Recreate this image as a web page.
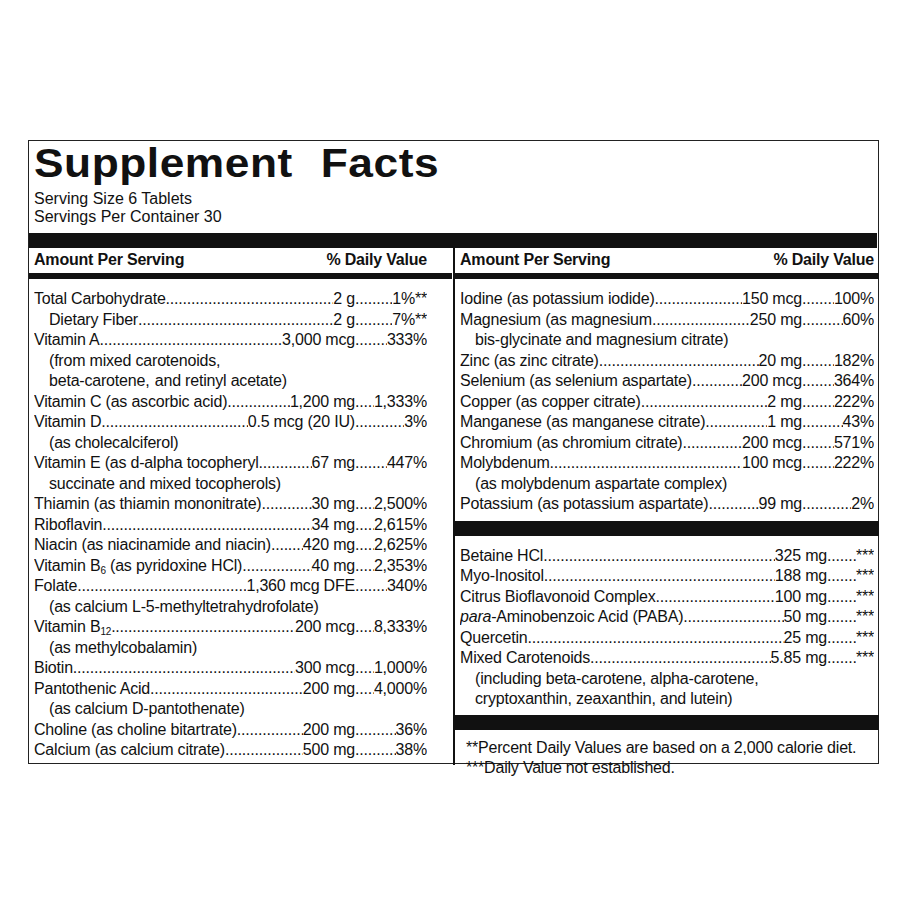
<!DOCTYPE html>
<html><head><meta charset="utf-8">
<script src="https://cdn.jsdelivr.net/npm/chart.js@4"></script>
<style>
body{margin:0;background:#fff;width:909px;height:909px;position:relative;font-family:"Liberation Sans",Arial,sans-serif;color:#111}
#box{position:absolute;left:28px;top:140px;width:851px;height:624px;border:1.5px solid #222;box-sizing:border-box}
#title{position:absolute;left:5px;top:-1px;font:bold 41px "Liberation Sans",Arial,sans-serif;letter-spacing:0.5px;word-spacing:14px;transform:scaleX(1.08);transform-origin:left}
.serv{position:absolute;left:5px;font-size:16px}
.bar{position:absolute;background:#111}
.col{position:absolute;top:106px;font-size:16px;letter-spacing:-0.2px}
.hdr{display:flex;justify-content:space-between;font-weight:bold;height:26px;line-height:26px}
.row{display:flex;height:20.5px;line-height:20.5px;white-space:nowrap;overflow:hidden}
.dots{flex:1;overflow:hidden;min-width:4px}
.dots::after{content:"..............................................................................................................................................................";}
.dv{display:flex;width:var(--dvw)}
.sub{padding-left:15px}
.foot{font-size:16px;line-height:20.5px;white-space:nowrap;padding-left:6px}
sub,sup{font-size:10px;line-height:0;vertical-align:baseline;position:relative}
sub{top:3px}
sup{top:-6px}
</style></head><body>
<div id="box">
  <div id="title">Supplement Facts</div>
  <div class="serv" style="top:49px">Serving Size 6 Tablets</div>
  <div class="serv" style="top:67px">Servings Per Container 30</div>
  <div class="bar" style="left:0;top:92px;width:848px;height:15px"></div>
  <div class="bar" style="left:424px;top:92px;width:1.5px;height:532px"></div>
  <div id="left" class="col" style="left:5px;width:393px"></div>
  <div id="right" class="col" style="left:431px;width:414px"></div>
</div>
<script>
// left column: [name, amount, daily value], continuation lines have only name
const leftRows = [
  ['Total Carbohydrate', '2 g', '1%**'],
  ['  Dietary Fiber', '2 g', '7%**'],
  ['Vitamin A', '3,000 mcg', '333%'],
  ['(from mixed carotenoids,'],
  ['beta-carotene,<sup>†</sup> and retinyl acetate)'],
  ['Vitamin C (as ascorbic acid)', '1,200 mg', '1,333%'],
  ['Vitamin D', '0.5 mcg (20 IU)', '3%'],
  ['(as cholecalciferol)'],
  ['Vitamin E (as d-alpha tocopheryl', '67 mg', '447%'],
  ['succinate and mixed tocopherols)'],
  ['Thiamin (as thiamin mononitrate)', '30 mg', '2,500%'],
  ['Riboflavin', '34 mg', '2,615%'],
  ['Niacin (as niacinamide and niacin)', '420 mg', '2,625%'],
  ['Vitamin B<sub>6</sub> (as pyridoxine HCl)', '40 mg', '2,353%'],
  ['Folate', '1,360 mcg DFE', '340%'],
  ['(as calcium L-5-methyltetrahydrofolate)<sup>††</sup>'],
  ['Vitamin B<sub>12</sub>', '200 mcg', '8,333%'],
  ['(as methylcobalamin)'],
  ['Biotin', '300 mcg', '1,000%'],
  ['Pantothenic Acid', '200 mg', '4,000%'],
  ['(as calcium D-pantothenate)'],
  ['Choline (as choline bitartrate)', '200 mg', '36%'],
  ['Calcium (as calcium citrate)', '500 mg', '38%']
];
const rightMinerals = [
  ['Iodine (as potassium iodide)', '150 mcg', '100%'],
  ['Magnesium (as magnesium', '250 mg', '60%'],
  ['bis-glycinate and magnesium citrate)'],
  ['Zinc (as zinc citrate)', '20 mg', '182%'],
  ['Selenium (as selenium aspartate)', '200 mcg', '364%'],
  ['Copper (as copper citrate)', '2 mg', '222%'],
  ['Manganese (as manganese citrate)', '1 mg', '43%'],
  ['Chromium (as chromium citrate)', '200 mcg', '571%'],
  ['Molybdenum', '100 mcg', '222%'],
  ['(as molybdenum aspartate complex)'],
  ['Potassium (as potassium aspartate)', '99 mg', '2%']
];
const rightOthers = [
  ['Betaine HCl', '325 mg', '***'],
  ['Myo-Inositol', '188 mg', '***'],
  ['Citrus Bioflavonoid Complex', '100 mg', '***'],
  ['<i>para</i>-Aminobenzoic Acid (PABA)', '50 mg', '***'],
  ['Quercetin', '25 mg', '***'],
  ['Mixed Carotenoids', '5.85 mg', '***'],
  ['(including beta-carotene, alpha-carotene,'],
  ['cryptoxanthin, zeaxanthin, and lutein)']
];
const footnotes = [
  '**Percent Daily Values are based on a 2,000 calorie diet.',
  '***Daily Value not established.'
];

function rowHtml(r, dvw) {
  if (r.length === 1) return `<div class="row sub">${r[0]}</div>`;
  const ind = r[0].startsWith('  ') ? ' style="padding-left:15px"' : '';
  return `<div class="row"${ind}><span>${r[0].trim()}</span><span class="dots"></span><span>${r[1]}</span>` +
    `<span class="dv" style="--dvw:${dvw}px"><span class="dots"></span><span>${r[2]}</span></span></div>`;
}
const hdr = '<div class="hdr"><span>Amount Per Serving</span><span>% Daily Value</span></div>' +
  '<div class="bar" style="position:relative;height:6px;margin:0 -5px 10px -5px"></div>';
document.getElementById('left').innerHTML = hdr.replace('margin:0 -5px 10px -5px', 'margin:0 -25px 10px -5px') +
  leftRows.map(r => rowHtml(r, 72)).join('');
document.getElementById('right').innerHTML = hdr + rightMinerals.map(r => rowHtml(r, 72)).join('') +
  '<div class="bar" style="position:relative;height:15px;margin:6px -5px 10px -5px"></div>' +
  rightOthers.map(r => rowHtml(r, 47)).join('') +
  '<div class="bar" style="position:relative;height:15px;margin:5px -5px 8px -5px"></div>' +
  footnotes.map(f => `<div class="foot">${f}</div>`).join('');
</script>
</body></html>
